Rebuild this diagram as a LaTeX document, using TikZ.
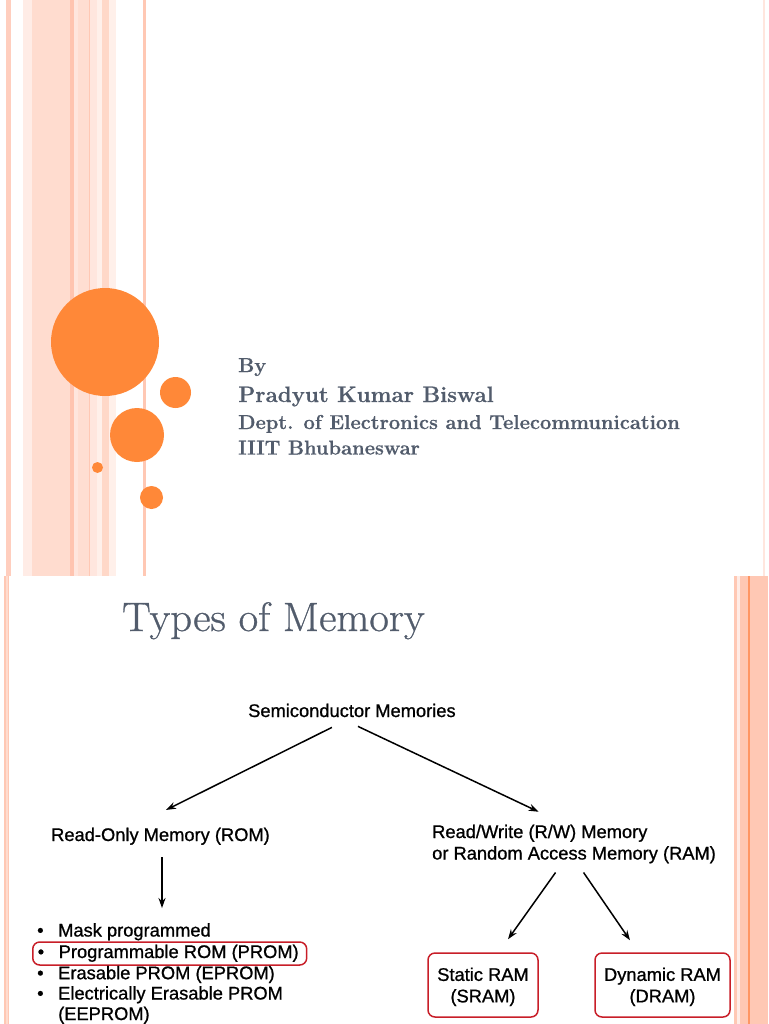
\documentclass[tikz,border=0pt]{standalone}
\usepackage{fontspec}
\newfontfamily\arialf[FakeBold=0.9]{Liberation Sans}
\newfontfamily\titlef[FakeBold=0.7]{Latin Modern Roman}
\newfontfamily\byf[BoldFeatures={FakeBold=0.5}]{Latin Modern Roman}
\usetikzlibrary{arrows.meta,calc}
\definecolor{orng}{RGB}{255,136,56}
\definecolor{slate}{RGB}{82,92,108}
\definecolor{redline}{RGB}{200,30,40}
\definecolor{stA}{RGB}{255,206,190}
\definecolor{stB}{RGB}{255,236,230}
\definecolor{stC}{RGB}{255,220,207}
\definecolor{stD}{RGB}{255,196,176}
\definecolor{stE}{RGB}{255,230,222}
\definecolor{stF}{RGB}{255,222,210}
\definecolor{stG}{RGB}{255,240,234}
\definecolor{stH}{RGB}{255,216,200}
\definecolor{stI}{RGB}{255,200,180}
\definecolor{stJ}{RGB}{255,150,100}
\tikzset{
  diag/.style={font=\arialf\fontsize{18.3}{21.5}\selectfont, inner sep=0pt},
  arr/.style={-{Stealth[length=10pt,width=7pt]}, line width=1.5pt},
  rbox/.style={draw=redline, line width=1.5pt, rounded corners=7pt},
  byline/.style={font=\byf\bfseries\fontsize{20.1}{22}\selectfont, text=slate, inner sep=0pt, anchor=base west},
}
\begin{document}
\begin{tikzpicture}[x=1pt,y=-1pt]
\useasboundingbox (0,0) rectangle (768,1024);
\fill[white] (0,0) rectangle (768,1024);
% ---- top slide stripes
\fill[stA] (6,0) rectangle (11,576);
\fill[stB] (23,0) rectangle (32,576);
\fill[stC] (32,0) rectangle (70,576);
\fill[stD] (70,0) rectangle (74,576);
\fill[stE] (74,0) rectangle (78,576);
\fill[stF] (78,0) rectangle (89,576);
\fill[stI] (89,0) rectangle (90,576);
\fill[stE] (90,0) rectangle (97,576);
\fill[stG] (97,0) rectangle (102,576);
\fill[stH] (102,0) rectangle (109,576);
\fill[stG] (109,0) rectangle (116,576);
\fill[stI] (143,0) rectangle (146,576);
\fill[stE] (763,0) rectangle (765,576);
% ---- circles
\fill[orng] (105,342) circle[radius=54pt];
\fill[orng] (175.5,392.5) circle[radius=15.5pt];
\fill[orng] (137,435) circle[radius=27pt];
\fill[orng] (97.5,467.5) circle[radius=5.5pt];
\fill[orng] (151.5,497.5) circle[radius=11.5pt];
% ---- top slide text
\node[byline] (by) at (238,372) {By};
\node[byline, font=\byf\bfseries\fontsize{22.3}{24}\selectfont] (author) at (238,402) {Pradyut Kumar Biswal};
\node[byline] (dept) at (238,429) {Dept. of Electronics and Telecommunication};
\node[byline] (inst) at (238,454.5) {IIIT Bhubaneswar};
% ---- bottom slide stripes
\fill[stI] (4,576) rectangle (9,1024);
\fill[stC] (5.5,576) rectangle (7.5,1024);
\fill[stI] (734,576) rectangle (737,1024);
\fill[stB] (737,576) rectangle (740,1024);
\fill[stI] (740,576) rectangle (768,1024);
\fill[stJ] (748,576) rectangle (749.5,1024);
% ---- title
\node[font=\titlef\fontsize{41}{41}\selectfont, text=slate, anchor=base west, inner sep=0pt] (title) at (122,631) {\scalebox{1.04}[1]{Types of Memory}};
% ---- diagram
\node[diag, anchor=base west] (semi) at (248,717) {Semiconductor Memories};
\node[diag, anchor=base west] (rom) at (51,841) {Read-Only Memory (ROM)};
\node[diag, anchor=base west, align=left] (rw) at (432,859.5) {Read/Write (R/W) Memory\\or Random Access Memory (RAM)};
\node[diag, anchor=base west] (i1) at (37,936.5) {\makebox[21pt][l]{•}Mask programmed};
\node[diag, rbox, anchor=base west, inner xsep=5pt, inner ysep=3pt, text height=13pt, text depth=4pt] (i2) at (32,958) {\makebox[21pt][l]{•}Programmable ROM (PROM)\hspace*{3pt}};
\node[diag, anchor=base west] (i3) at (37,979.2) {\makebox[21pt][l]{•}Erasable PROM (EPROM)};
\node[diag, anchor=base west, align=left, font=\arialf\fontsize{18.3}{20.5}\selectfont] (i4) at (37,1020) {\makebox[21pt][l]{•}Electrically Erasable PROM\\\hspace*{21pt}(EEPROM)};
\node[diag, rbox, align=center, minimum width=110pt, minimum height=64pt, text height=38.5pt] (sram) at (483,985) {Static RAM\\(SRAM)};
\node[diag, rbox, align=center, minimum width=135pt, minimum height=64pt, text height=38.5pt] (dram) at (662.5,985) {Dynamic RAM\\(DRAM)};
% ---- connectors
\draw[arr] ($(semi.south)+(-20,10)$) -- ($(rom.north)+(5.5,-17.6)$);
\draw[arr] ($(semi.south)+(6,9)$) -- ($(rw.north)+(-35.5,-12.8)$);
\draw[arr] ($(rom.south)+(1.5,12)$) -- ($(rom.south |- i1.north)+(1.5,-15)$);
\draw[arr] ($(rw.south)+(-18.5,9)$) -- ($(sram.north)+(25,-13)$);
\draw[arr] ($(rw.south)+(9.5,9)$) -- ($(dram.north)+(-32.5,-12)$);
\end{tikzpicture}
\end{document}
